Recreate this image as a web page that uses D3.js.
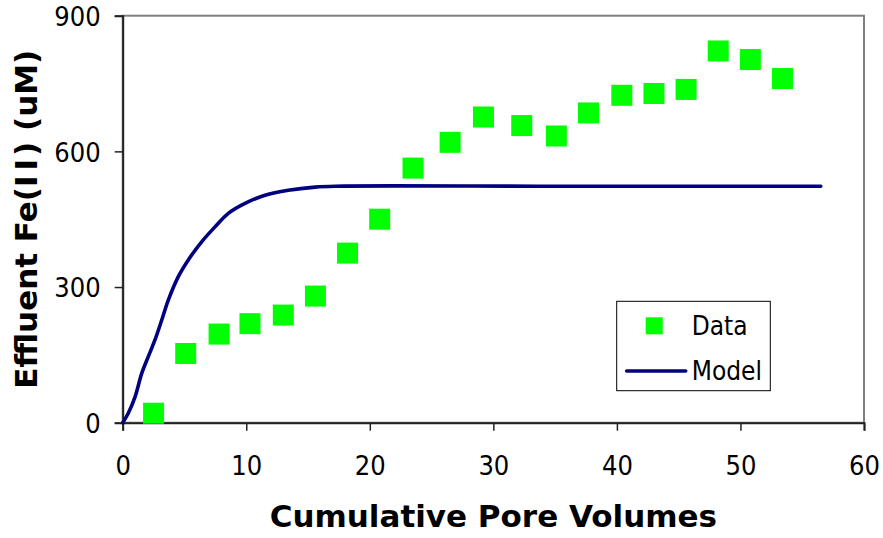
<!DOCTYPE html>
<html>
<head>
<meta charset="utf-8">
<script src="https://d3js.org/d3.v7.min.js"></script>
<style>
  html, body { margin: 0; padding: 0; background: #fff; }
  svg { display: block; }
  .tick-label { font-family: "DejaVu Sans Condensed", "DejaVu Sans", sans-serif; font-stretch: condensed; font-size: 27px; fill: #000; }
  .axis-title { font-family: "DejaVu Sans", sans-serif; font-weight: bold; font-size: 31px; fill: #000; }
  .legend-label { font-family: "DejaVu Sans Condensed", "DejaVu Sans", sans-serif; font-stretch: condensed; font-size: 26px; fill: #000; }
</style>
</head>
<body>
<svg id="chart" width="883" height="538"></svg>
<script>
// Measured effluent Fe(II) concentrations
const dataPV = [2.5, 5.1, 7.8, 10.3, 13.0, 15.6, 18.2, 20.8, 23.5, 26.5, 29.2, 32.3, 35.1, 37.7, 40.4, 43.0, 45.6, 48.2, 50.8, 53.4];
const dataFe = [21, 153, 196, 219, 238, 280, 375, 450, 563, 620, 676, 657, 634, 685, 724, 728, 737, 822, 803, 761];

// Model breakthrough curve
const modelPV = [0, 0.45, 1.0, 1.54, 2.07, 2.61, 3.16, 3.69, 4.5, 5.31, 6.39, 7.47, 8.55, 9.9, 11.52, 13.4, 15.56, 17.2, 33.7, 45.5, 56.5];
const modelFe = [0, 21, 57, 109, 146, 183, 227, 271, 323, 360, 400, 433, 463, 485, 503, 514, 521, 523, 523, 523, 523];

// Axis ticks
const xTicks = [0, 10, 20, 30, 40, 50, 60];
const yTicks = [0, 300, 600, 900];

const svg = d3.select("#chart");
const W = 883, H = 538;
const margin = { left: 122.7, right: W - 864, top: 15.7, bottom: H - 422.7 };

const x = d3.scaleLinear().domain([0, 60]).range([margin.left, W - margin.right]);
const y = d3.scaleLinear().domain([0, 900]).range([H - margin.bottom, margin.top]);

// Plot area frame (grey top and right edges)
svg.append("rect")
  .attr("x", x(0)).attr("y", y(900))
  .attr("width", x(60) - x(0)).attr("height", y(0) - y(900))
  .attr("fill", "#fff").attr("stroke", "#808080").attr("stroke-width", 2);

// Axes
const xAxis = svg.append("g")
  .attr("transform", `translate(0,${y(0)})`)
  .call(d3.axisBottom(x).tickValues(xTicks).tickSize(8).tickPadding(24).tickFormat(d3.format("d")));
const yAxis = svg.append("g")
  .attr("transform", `translate(${x(0)},0)`)
  .call(d3.axisLeft(y).tickValues(yTicks).tickSize(8).tickPadding(14).tickFormat(d3.format("d")));

[xAxis, yAxis].forEach(g => {
  g.attr("font-size", null).attr("font-family", null);
  g.select(".domain").attr("stroke", "#222").attr("stroke-width", 2);
  g.selectAll(".tick line").attr("stroke", "#222").attr("stroke-width", 1.5);
  g.selectAll(".tick text").attr("class", "tick-label");
});
xAxis.selectAll(".tick text").attr("dy", "0.71em").attr("y", 33);
yAxis.selectAll(".tick text").attr("dy", "0.36em");

// Model curve
const modelPts = modelPV.map((v, i) => [v, modelFe[i]]);
svg.append("path")
  .datum(modelPts)
  .attr("fill", "none")
  .attr("stroke", "#000080")
  .attr("stroke-width", 3.6)
  .attr("stroke-linecap", "round")
  .attr("stroke-linejoin", "round")
  .attr("d", d3.line().x(d => x(d[0])).y(d => y(d[1])).curve(d3.curveCatmullRom.alpha(0.5)));

// Data markers
const sq = 21;
svg.append("g").selectAll("rect")
  .data(dataPV.map((v, i) => [v, dataFe[i]]))
  .join("rect")
  .attr("x", d => x(d[0]) - sq / 2)
  .attr("y", d => y(d[1]) - sq / 2)
  .attr("width", sq).attr("height", sq)
  .attr("fill", "#00ff00");

// Axis titles
svg.append("text")
  .attr("class", "axis-title")
  .attr("x", (x(0) + x(60)) / 2)
  .attr("y", 527)
  .attr("text-anchor", "middle")
  .text("Cumulative Pore Volumes");

const yTitle = svg.append("text")
  .attr("class", "axis-title")
  .attr("transform", `translate(37,${(y(0) + y(900)) / 2}) rotate(-90)`)
  .attr("text-anchor", "middle");
yTitle.append("tspan").text("Effluent Fe(I");
yTitle.append("tspan").attr("dx", 5).text("I");
yTitle.append("tspan").attr("dx", 3).text(") (uM)");

// Legend
const lg = svg.append("g").attr("transform", "translate(616.7,301.3)");
lg.append("rect")
  .attr("width", 153.6).attr("height", 89.4)
  .attr("fill", "#fff").attr("stroke", "#000").attr("stroke-width", 1);
lg.append("rect")
  .attr("x", 29).attr("y", 16).attr("width", 17).attr("height", 17)
  .attr("fill", "#00ff00");
lg.append("text").attr("class", "legend-label").attr("x", 75).attr("y", 34).text("Data");
lg.append("line")
  .attr("x1", 10).attr("x2", 69).attr("y1", 69.7).attr("y2", 69.7)
  .attr("stroke", "#000080").attr("stroke-width", 3.6).attr("stroke-linecap", "round");
lg.append("text").attr("class", "legend-label").attr("x", 75).attr("y", 79).text("Model");
</script>
</body>
</html>
